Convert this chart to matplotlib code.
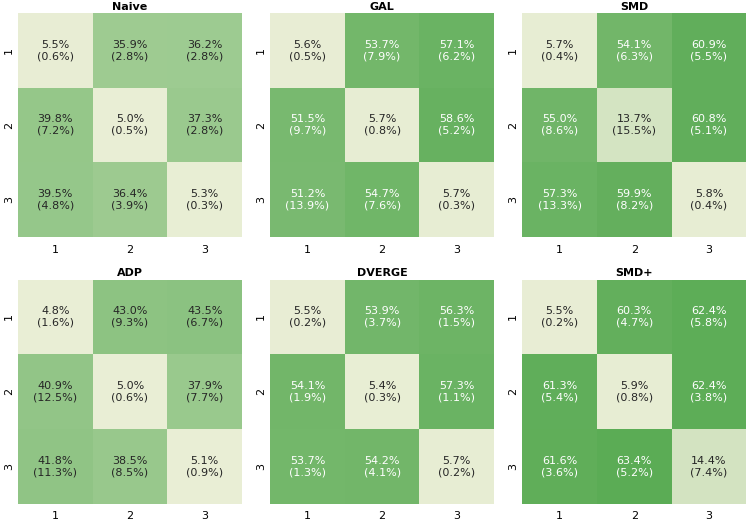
import numpy as np
import matplotlib
matplotlib.use('Agg')
import matplotlib.pyplot as plt
import seaborn as sns
from matplotlib.colors import LinearSegmentedColormap

labels = ['1', '2', '3']
methods = ['Naive', 'GAL', 'SMD', 'ADP', 'DVERGE', 'SMD+']

naive_mean = [[5.5, 35.9, 36.2], [39.8, 5.0, 37.3], [39.5, 36.4, 5.3]]
naive_std = [[0.6, 2.8, 2.8], [7.2, 0.5, 2.8], [4.8, 3.9, 0.3]]
gal_mean = [[5.6, 53.7, 57.1], [51.5, 5.7, 58.6], [51.2, 54.7, 5.7]]
gal_std = [[0.5, 7.9, 6.2], [9.7, 0.8, 5.2], [13.9, 7.6, 0.3]]
smd_mean = [[5.7, 54.1, 60.9], [55.0, 13.7, 60.8], [57.3, 59.9, 5.8]]
smd_std = [[0.4, 6.3, 5.5], [8.6, 15.5, 5.1], [13.3, 8.2, 0.4]]
adp_mean = [[4.8, 43.0, 43.5], [40.9, 5.0, 37.9], [41.8, 38.5, 5.1]]
adp_std = [[1.6, 9.3, 6.7], [12.5, 0.6, 7.7], [11.3, 8.5, 0.9]]
dverge_mean = [[5.5, 53.9, 56.3], [54.1, 5.4, 57.3], [53.7, 54.2, 5.7]]
dverge_std = [[0.2, 3.7, 1.5], [1.9, 0.3, 1.1], [1.3, 4.1, 0.2]]
smdp_mean = [[5.5, 60.3, 62.4], [61.3, 5.9, 62.4], [61.6, 63.4, 14.4]]
smdp_std = [[0.2, 4.7, 5.8], [5.4, 0.8, 3.8], [3.6, 5.2, 7.4]]

means = [naive_mean, gal_mean, smd_mean, adp_mean, dverge_mean, smdp_mean]
stds = [naive_std, gal_std, smd_std, adp_std, dverge_std, smdp_std]

cmap = LinearSegmentedColormap.from_list('cream_green', ['#e9eed5', '#5aab54'])

fig, axes = plt.subplots(2, 3, figsize=(7.47, 5.22), dpi=100)
plt.subplots_adjust(left=0.024, right=0.999, top=1 - 13.0 / 522, bottom=0.035,
                    wspace=0.125, hspace=0.19)

for ax, name, m, s in zip(axes.flat, methods, means, stds):
    m = np.array(m)
    s = np.array(s)
    annot = np.array([['%.1f%%\n(%.1f%%)' % (m[i, j], s[i, j]) for j in range(3)]
                      for i in range(3)])
    sns.heatmap(m, ax=ax, cmap=cmap, vmin=5, vmax=64, annot=annot, fmt='',
                cbar=False, square=True, xticklabels=labels, yticklabels=labels,
                annot_kws={'fontsize': 8})
    ax.set_title(name, fontsize=8, fontweight='bold', pad=2.5)
    ax.tick_params(axis='y', length=0, labelsize=8, pad=3)
    ax.tick_params(axis='x', length=0, labelsize=8, pad=5.5)

plt.savefig('out.png', dpi=100)
plt.close('all')
